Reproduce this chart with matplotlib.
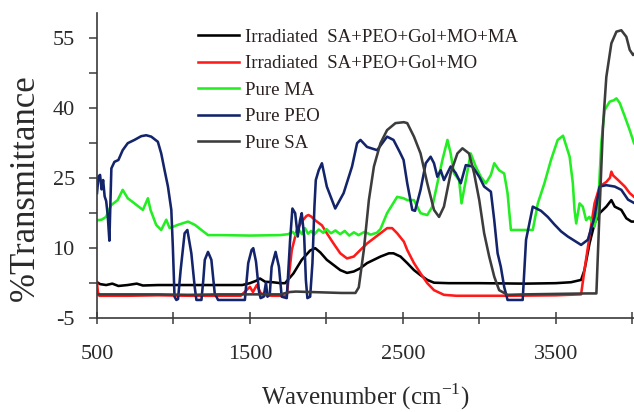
import matplotlib
matplotlib.use("Agg")
import matplotlib.pyplot as plt
from matplotlib.ticker import FixedLocator, FixedFormatter

plt.rcParams['font.family'] = ['Liberation Serif', 'DejaVu Serif']

# FTIR spectra: wavenumber (cm^-1) and %Transmittance
irr_ma_w = [500, 520, 560, 600, 640, 700, 760, 800, 900, 1000, 1100, 1300, 1450, 1500,
            1540, 1566, 1600, 1650, 1700, 1730, 1785, 1839, 1894, 1927, 1960, 2003, 2047,
            2091, 2135, 2179, 2222, 2266, 2310, 2354, 2409, 2439, 2485, 2529, 2573, 2616,
            2660, 2704, 2800, 3000, 3300, 3500, 3600, 3666, 3688, 3721, 3754, 3787, 3831,
            3864, 3886, 3929, 3962, 3995, 4012]
irr_ma_t = [2.6, 2.2, 2.0, 2.3, 1.8, 2.0, 2.3, 1.9, 2.0, 2.0, 2.0, 2.0, 2.0, 2.4,
            2.9, 3.4, 2.7, 2.6, 2.4, 2.4, 4.5, 7.4, 9.4, 9.9, 9.0, 7.4, 6.3,
            5.2, 4.6, 4.9, 5.6, 6.7, 7.4, 8.1, 8.8, 8.8, 8.1, 6.7, 5.2, 4.1,
            3.1, 2.5, 2.4, 2.4, 2.3, 2.4, 2.6, 3.1, 5.2, 10.9, 15.2, 17.4, 18.8,
            20.2, 18.8, 18.1, 16.3, 15.6, 15.6]

irr_w = [500, 506, 515, 700, 900, 1100, 1300, 1440, 1478, 1500, 1520, 1545, 1570, 1600,
         1650, 1741, 1752, 1774, 1807, 1839, 1870, 1883, 1900, 1930, 1971, 2003, 2047,
         2091, 2135, 2179, 2222, 2266, 2310, 2354, 2398, 2430, 2463, 2507, 2529, 2573,
         2616, 2660, 2704, 2769, 2850, 3200, 3500, 3666, 3688, 3721, 3754, 3787, 3831,
         3855, 3864, 3875, 3908, 3952, 3984, 4012]
irr_t = [2.6, 0.5, -0.3, -0.3, -0.2, -0.3, -0.3, -0.3, 0.9, 1.6, 0.5, 2.0, 0.3, -0.2,
         -0.3, -0.3, 3.1, 9.5, 13.8, 15.6, 16.8, 17.0, 16.7, 15.8, 14.8, 13.1, 10.9,
         8.8, 7.7, 8.1, 9.5, 10.9, 12.0, 13.1, 14.2, 14.2, 13.1, 11.3, 9.5, 6.7,
         4.5, 2.4, 0.9, -0.1, -0.3, -0.3, -0.2, 0.0, 5.2, 12.4, 19.5, 23.1, 24.1,
         25.0, 26.3, 25.5, 24.5, 23.1, 21.7, 20.9]

ma_w = [500, 530, 559, 592, 635, 668, 701, 745, 800, 833, 850, 887, 920, 953, 975,
        1029, 1095, 1140, 1183, 1226, 1314, 1500, 1697, 1750, 1780, 1800, 1820, 1840,
        1860, 1880, 1900, 1920, 1950, 1980, 2000, 2030, 2060, 2090, 2120, 2150, 2180,
        2210, 2250, 2290, 2330, 2354, 2397, 2463, 2505, 2529, 2573, 2616, 2660, 2693,
        2726, 2759, 2792, 2813, 2835, 2868, 2884, 2912, 2944, 2977, 3010, 3043, 3076,
        3098, 3130, 3163, 3185, 3207, 3350, 3383, 3426, 3469, 3513, 3548, 3591, 3612,
        3623, 3634, 3656, 3677, 3699, 3720, 3754, 3776, 3798, 3820, 3853, 3880, 3897,
        3919, 3952, 3984, 4012]
ma_t = [15.9, 16.0, 16.6, 19.1, 20.2, 22.4, 20.6, 19.5, 18.1, 20.6, 18.1, 14.9, 13.8, 16.0, 14.2,
        14.9, 15.6, 14.9, 13.8, 12.7, 12.7, 12.6, 12.7, 12.9, 13.4, 12.6, 13.8, 12.9,
        14.2, 13.0, 13.6, 12.8, 13.9, 13.2, 14.0, 13.1, 13.7, 12.9, 13.6, 12.6, 13.3,
        12.7, 13.4, 12.8, 13.2, 14.0, 17.4, 20.9, 20.6, 20.2, 20.2, 17.4, 17.0, 18.8,
        23.8, 28.8, 33.1, 30.2, 25.9, 24.5, 19.5, 24.5, 30.2, 27.4, 25.2, 23.8, 25.6,
        28.1, 26.6, 25.9, 21.7, 13.8, 13.8, 19.5, 23.8, 28.8, 33.1, 34.0, 29.5, 23.8,
        18.1, 15.2, 19.5, 18.8, 15.9, 16.6, 14.5, 18.1, 32.4, 39.5, 41.3, 41.6, 42.0,
        41.0, 38.1, 35.2, 32.4]

peo_w = [500, 510, 520, 530, 540, 550, 560, 570, 581, 588, 594, 614, 640, 668, 701, 745,
         789, 822, 855, 898, 920, 942, 964, 986, 996, 1007, 1019, 1030, 1047, 1073, 1091,
         1117, 1139, 1150, 1183, 1195, 1205, 1226, 1248, 1270, 1292, 1467, 1489, 1511,
         1522, 1540, 1560, 1570, 1590, 1605, 1615, 1630, 1642, 1668, 1690, 1708, 1741,
         1763, 1778, 1796, 1813, 1828, 1839, 1855, 1866, 1876, 1894, 1909, 1922, 1931,
         1950, 1971, 2003, 2058, 2113, 2168, 2201, 2223, 2266, 2332, 2397, 2439, 2480,
         2505, 2529, 2562, 2580, 2616, 2650, 2682, 2704, 2726, 2748, 2769, 2813, 2846,
         2879, 2912, 2956, 3000, 3032, 3076, 3098, 3120, 3141, 3163, 3185, 3284, 3306,
         3350, 3404, 3448, 3491, 3535, 3579, 3666, 3710, 3754, 3787, 3831, 3886, 3929,
         3973, 4012]
peo_t = [21.7, 25.3, 25.6, 22.5, 24.5, 21.0, 20.0, 17.0, 11.5, 20.0, 27.0, 28.4, 28.8, 30.9, 32.4, 33.1,
         33.9, 34.1, 33.8, 32.7, 30.2, 26.6, 23.1, 18.1, 10.2, -0.5, -1.2, -1.0, 5.2, 13.1, 13.8,
         8.8, 1.6, -1.2, -1.2, 3.0, 7.4, 9.1, 7.4, 0.2, -1.2, -1.2, 6.7, 9.5,
         9.9, 7.0, 0.5, -0.8, -0.5, 2.5, -0.5, 0.0, 5.9, 9.1, 5.9, -0.5, -0.8,
         11.7, 18.4, 17.4, 12.4, 15.9, 17.4, 12.4, 3.1, -0.8, -0.5, 6.7, 18.8, 24.5,
         26.6, 28.1, 23.1, 18.4, 21.7, 27.4, 32.4, 33.1, 31.6, 30.9, 33.8, 33.1, 30.5,
         28.8, 23.8, 18.1, 17.9, 22.4, 28.1, 29.5, 28.1, 25.2, 26.6, 24.5, 27.4, 26.0,
         23.8, 27.7, 27.4, 25.2, 23.1, 22.0, 15.9, 8.8, 5.9, 1.6, -1.2, -1.2, 11.7,
         18.8, 17.9, 16.6, 15.0, 13.5, 12.4, 10.6, 11.7, 16.6, 23.1, 23.4, 23.1, 22.4,
         20.3, 19.6]

sa_w = [500, 700, 900, 1100, 1300, 1500, 1700, 1760, 1800, 1900, 2000, 2100, 2190, 2212,
        2245, 2278, 2311, 2354, 2397, 2452, 2507, 2529, 2573, 2616, 2660, 2704, 2737, 2769,
        2813, 2857, 2890, 2933, 2966, 3000, 3032, 3065, 3098, 3130, 3185, 3300, 3500, 3700,
        3766, 3787, 3809, 3831, 3864, 3897, 3929, 3962, 3984, 4006, 4012]
sa_t = [0.0, 0.0, 0.0, -0.1, 0.0, 0.0, 0.0, 0.5, 0.6, 0.5, 0.4, 0.3, 0.3, 1.5,
        9.5, 20.2, 27.4, 32.4, 35.2, 36.7, 36.9, 36.7, 33.8, 30.2, 23.8, 18.1, 16.6, 18.8,
        26.0, 30.2, 31.3, 30.2, 26.0, 20.2, 13.1, 8.1, 3.8, 0.9, -0.1, 0.0, 0.1, 0.2,
        0.2, 18.1, 35.9, 46.6, 53.8, 56.3, 56.6, 55.2, 52.4, 51.3, 51.5]

labels = ["Irradiated  SA+PEO+Gol+MO+MA", "Irradiated  SA+PEO+Gol+MO",
          "Pure MA", "Pure PEO", "Pure SA"]
colors = ["#000000", "#ff1a1a", "#22ee22", "#13246b", "#3c3c3c"]

y_ticks = [-5, 2.5, 10, 17.5, 25, 32.5, 40, 47.5, 55]
y_labels = ["-5", "", "10", "", "25", "", "40", "", "55"]
x_ticks = [500, 1000, 1500, 2000, 2500, 3000, 3500, 4000]
x_labels = ["500", "", "1500", "", "2500", "", "3500", ""]

fig = plt.figure(figsize=(6.34, 4.12), dpi=100)
ax = fig.add_axes([97 / 634, 94.3 / 412, 1 - 97 / 634, 304.7 / 412])

series = [(irr_ma_w, irr_ma_t), (irr_w, irr_t), (ma_w, ma_t), (peo_w, peo_t), (sa_w, sa_t)]
for (w, t), lab, c in zip(series, labels, colors):
    ax.plot(w, t, color=c, lw=1.85, label=lab, solid_joinstyle='round')

ax.set_xlim(500, 4012)
ax.set_ylim(-5, 60.3)

ax.yaxis.set_major_locator(FixedLocator(y_ticks))
ax.yaxis.set_major_formatter(FixedFormatter(y_labels))
ax.xaxis.set_major_locator(FixedLocator(x_ticks))
ax.xaxis.set_major_formatter(FixedFormatter(x_labels))

for s in ["top", "right"]:
    ax.spines[s].set_visible(False)
for s in ["left", "bottom"]:
    ax.spines[s].set_color("#3a3a3a")
    ax.spines[s].set_linewidth(1.2)

ax.tick_params(axis='y', direction='out', length=6, width=1.1, color="#3a3a3a",
               labelsize=16, labelcolor="#2a2a2a", pad=10)
ax.tick_params(axis='x', direction='inout', length=8, width=1.1, color="#3a3a3a",
               labelsize=16, labelcolor="#2a2a2a", pad=16)

ax.set_xlabel("Wavenumber (cm$^{\\mathregular{-1}}$)", fontsize=18, color="#2a2a2a", labelpad=12)
ax.set_ylabel("%Transmittance", fontsize=25, color="#2a2a2a")
ax.yaxis.set_label_coords(-0.103, 0.427)

leg = ax.legend(loc='upper left', bbox_to_anchor=((198 - 97) / 537, (318 - 29) / 304.7),
                frameon=False, fontsize=13.5, handlelength=2.2, handletextpad=0.3,
                labelspacing=0.5, borderaxespad=0, borderpad=0)
for txt in leg.get_texts():
    txt.set_color("#2a2020")

fig.savefig("out.png", dpi=100)
